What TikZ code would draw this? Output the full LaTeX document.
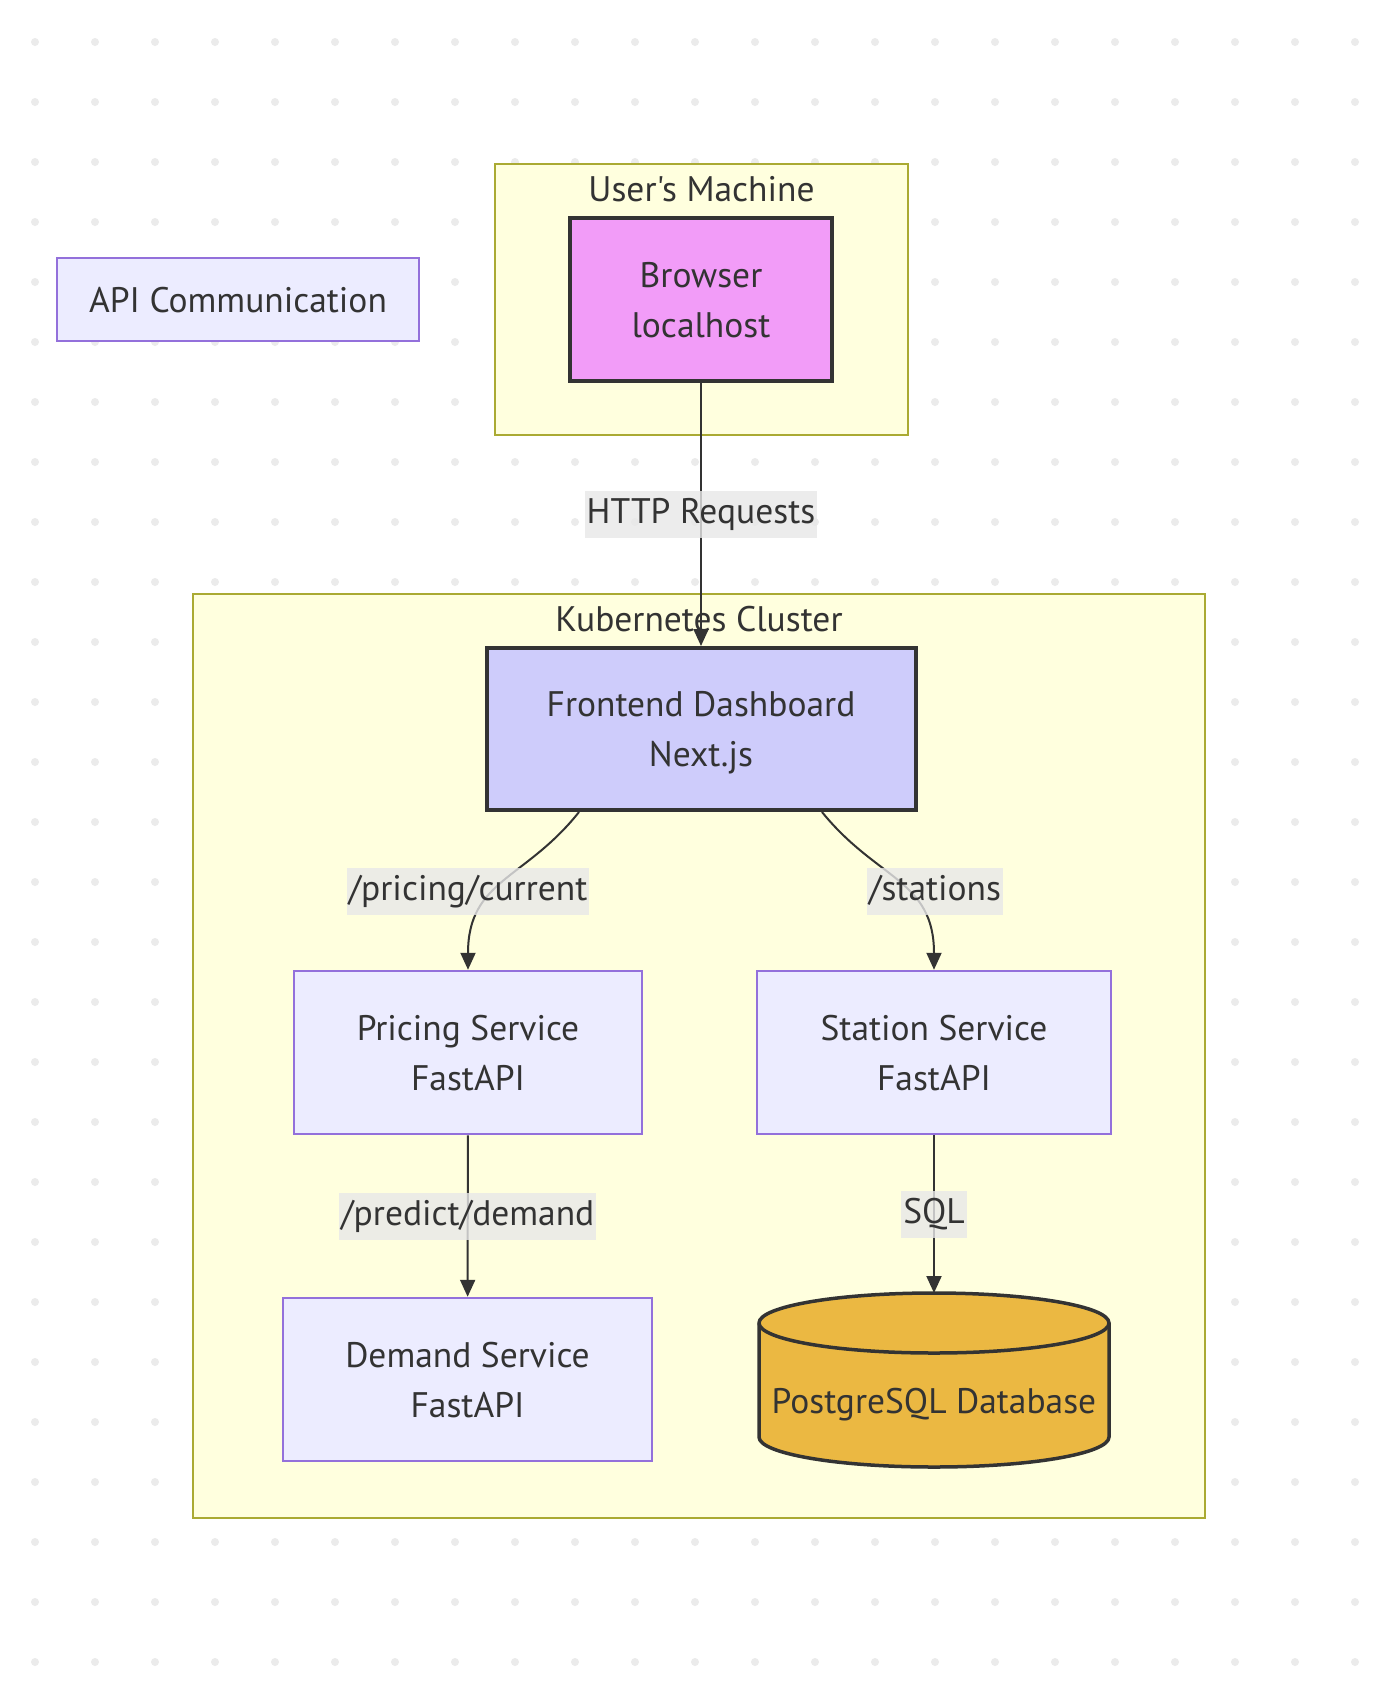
\documentclass[tikz,border=0pt]{standalone}
\usepackage{fontspec}
\newfontfamily\ptsans{PT Sans}
\usetikzlibrary{arrows.meta,backgrounds}
\definecolor{txtgray}{HTML}{333333}
\definecolor{clfill}{HTML}{FFFFDE}
\definecolor{cldraw}{HTML}{AAAA33}
\definecolor{ndfill}{HTML}{ECECFF}
\definecolor{nddraw}{HTML}{9370DB}
\definecolor{brfill}{HTML}{F29CF8}
\definecolor{fefill}{HTML}{CECCFB}
\definecolor{dbfill}{HTML}{EBB842}
\definecolor{lblfill}{HTML}{E8E8E8}
\definecolor{dotgray}{HTML}{EBEBEB}
\tikzset{%
    cluster/.style={
      rectangle,
      draw=cldraw,
      fill=clfill,
      line width=2pt
    },
    cluster title/.style={
      text=txtgray,
      inner sep=0pt
    },
    service/.style={
      rectangle,
      draw=nddraw,
      fill=ndfill,
      line width=2.5pt,
      text=txtgray,
      text depth=0pt,
      align=center
    },
    strong/.style={
      rectangle,
      draw=txtgray,
      line width=4pt,
      text=txtgray,
      text depth=0pt,
      align=center
    },
    database/.style={
      rectangle,
      inner sep=0pt,
      outer sep=0pt,
      text=txtgray,
      text height=75pt,
      text depth=8pt
    },
    db body/.style={
      draw=txtgray,
      fill=dbfill,
      line width=3.5pt
    },
    edge label/.style={
      fill=lblfill,
      fill opacity=0.8,
      text opacity=1,
      text=txtgray,
      text height=26pt,
      text depth=8pt,
      inner xsep=2pt,
      inner ysep=6.5pt
    },
    flow/.style={
      draw=txtgray,
      line width=2pt,
      -{Triangle[length=17pt,width=15pt]}
    }
  }

\begin{document}
\begin{tikzpicture}[x=1pt, y=-1pt, font=\ptsans\fontsize{35.5}{50}\selectfont]
      \useasboundingbox (0,0) rectangle (1386,1682);
      \begin{scope}[on background layer]
        \fill [white] (0,0) rectangle (1386,1682);
        \foreach \i in {0,...,22}
          \foreach \j in {0,...,27}
            \fill [dotgray] (35+60*\i, 42+60*\j) circle (4pt);
        \node [cluster, minimum width=413pt, minimum height=271pt] (usr) at (701.5,299.5) {};
        \node [cluster, minimum width=1012pt, minimum height=924pt] (k8s) at (699,1056) {};
      \end{scope}

      \node [service, minimum width=362pt, minimum height=83pt] (api) at (238,299.5) {API Communication};

      \node [cluster title] (usrlbl) at (701.5,189) {User's Machine};
      \node [strong, fill=brfill, minimum width=262pt, minimum height=163pt] (browser) at (701,299.5) {Browser\\localhost};

      \node [cluster title] (k8slbl) at (699,619) {Kubernetes Cluster};

      \node [strong, fill=fefill, minimum width=429pt, minimum height=162pt] (front) at (701,729) {Frontend Dashboard\\Next.js};
      \node [service, minimum width=348pt, minimum height=163pt] (pricing) at (468,1052.5) {Pricing Service\\FastAPI};
      \node [service, minimum width=354pt, minimum height=163pt] (station) at (934,1052.5) {Station Service\\FastAPI};
      \node [service, minimum width=369pt, minimum height=163pt] (demand) at (467.5,1379.5) {Demand Service\\FastAPI};
      \node [database, minimum width=350pt, minimum height=174pt] (db) at (934,1380) {PostgreSQL Database};

      % cylinder under the database text
      \begin{scope}[on background layer]
        \draw [db body] ([yshift=-30pt]db.north west) -- ([yshift=30pt]db.south west)
          arc [start angle=180, end angle=360, x radius=175pt, y radius=30pt]
          -- ([yshift=-30pt]db.north east)
          arc [start angle=0, end angle=180, x radius=175pt, y radius=30pt] -- cycle;
        \draw [db body, fill=none] ([yshift=-30pt]db.north west)
          arc [start angle=180, end angle=360, x radius=175pt, y radius=30pt];
      \end{scope}

      \draw [flow] (browser) -- node [edge label] (httplbl) {HTTP Requests} (front);
      \draw [flow] ([xshift=-122pt]front.south) .. controls +(-54,68) and +(0,-90) .. (pricing.north);
      \draw [flow] ([xshift=121pt]front.south) .. controls +(55,68) and +(0,-90) .. (station.north);
      \draw [flow] (pricing) -- node [edge label] (predlbl) {/predict/demand} (demand);
      \draw [flow] (station) -- node [edge label] (sqllbl) {SQL} (db);

      \node [edge label] (pclbl) at (468,891) {/pricing/current};
      \node [edge label] (stlbl) at (935,891) {/stations};
\end{tikzpicture}
\end{document}
